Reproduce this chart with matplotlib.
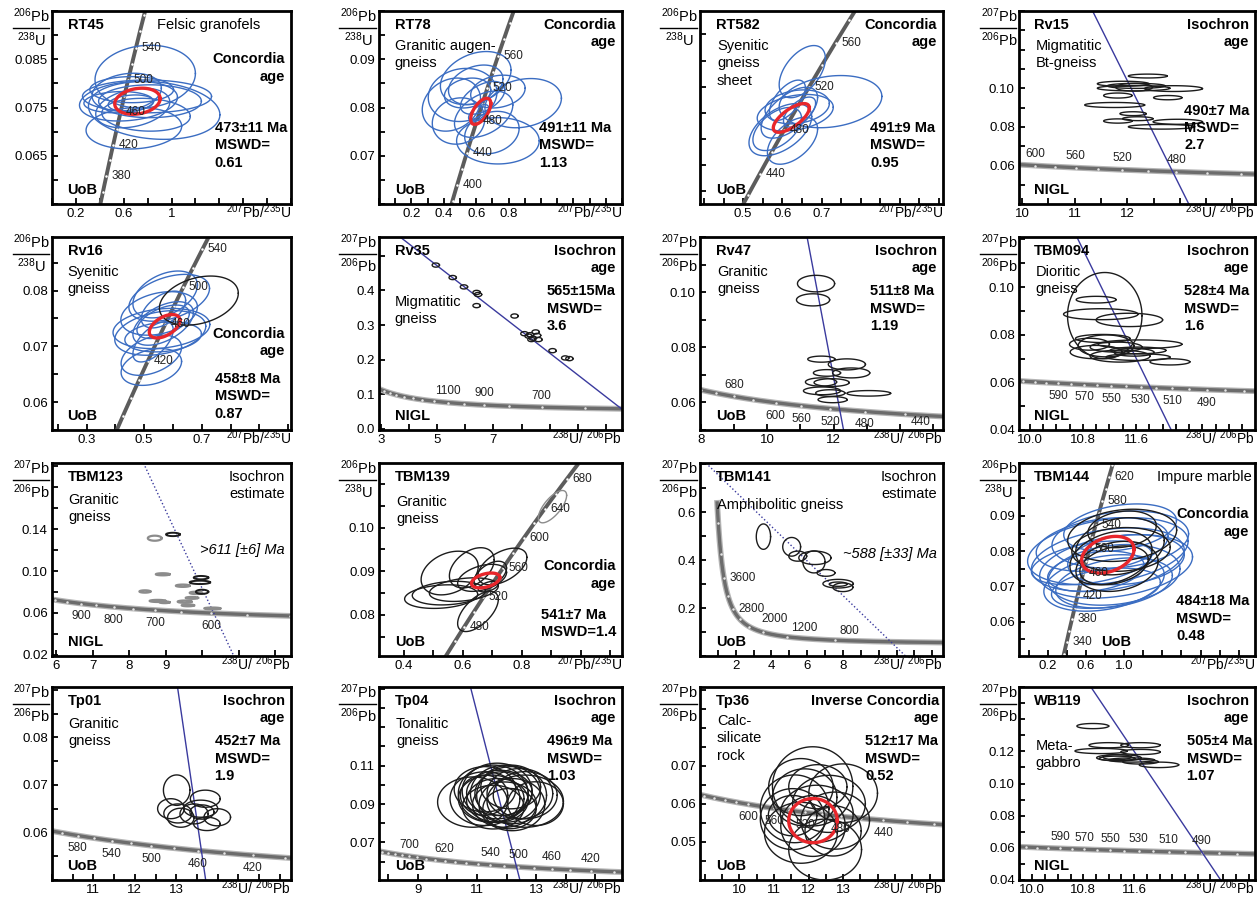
import numpy as np
import matplotlib
matplotlib.use('Agg')
import matplotlib.pyplot as plt

plt.rcParams['font.family'] = ['Liberation Sans', 'DejaVu Sans']
plt.rcParams['mathtext.default'] = 'regular'

# decay constants (1/yr) and present-day 238U/235U
L238 = 1.55125e-10
L235 = 9.8485e-10
U85 = 137.88

# ---- data ----
# ellipses are (x, sx, y, sy, rho)

rt45_xticks = ['0.2', '0.6', '1']
rt45_yticks = ['0.065', '0.075', '0.085']
rt45_ages = [380, 420, 460, 500, 540]
rt45_blue = [
    (0.78, 0.42, 0.0814, 0.0065, 0.1), (0.855, 0.55, 0.0744, 0.0060, -0.15),
    (0.685, 0.40, 0.0707, 0.0043, 0.1), (0.64, 0.41, 0.0763, 0.0041, 0.2),
    (0.795, 0.54, 0.0773, 0.0034, 0.0), (0.625, 0.29, 0.0782, 0.0039, 0.2),
    (0.676, 0.31, 0.0749, 0.0041, 0.3), (0.557, 0.29, 0.0761, 0.0022, 0.1),
    (0.787, 0.37, 0.0735, 0.0034, -0.1), (0.667, 0.35, 0.0787, 0.0027, 0.0),
    (0.82, 0.43, 0.0763, 0.0034, 0.0), (0.66, 0.19, 0.0759, 0.0017, 0.2),
]
rt45_mean = (0.715, 0.19, 0.0763, 0.0027, 0.2)

rt78_xticks = ['0.2', '0.4', '0.6', '0.8']
rt78_yticks = ['0.07', '0.08', '0.09']
rt78_ages = [400, 440, 480, 520, 560]
rt78_blue = [
    (0.89, 0.236, 0.0809, 0.0051, 0.2), (0.734, 0.255, 0.0731, 0.0048, 0.0),
    (0.597, 0.218, 0.0861, 0.0055, 0.3), (0.447, 0.18, 0.0806, 0.0055, 0.2),
    (0.516, 0.212, 0.0826, 0.0055, 0.1), (0.597, 0.168, 0.0847, 0.0041, 0.3),
    (0.646, 0.18, 0.0786, 0.0048, 0.4), (0.491, 0.162, 0.0772, 0.0048, 0.1),
    (0.697, 0.168, 0.0748, 0.0044, 0.2), (0.64, 0.137, 0.082, 0.0034, 0.5),
    (0.615, 0.062, 0.0789, 0.0017, 0.6), (0.547, 0.143, 0.083, 0.0031, 0.2),
    (0.734, 0.168, 0.0833, 0.0034, 0.2),
]
rt78_mean = (0.628, 0.062, 0.0792, 0.0027, 0.6)

rt582_xticks = ['0.5', '0.6', '0.7']
rt582_yticks = ['0.070', '0.078', '0.086']
rt582_ages = [440, 480, 520, 560]
rt582_blue = [
    (0.651, 0.059, 0.0863, 0.0040, 0.5), (0.723, 0.131, 0.0817, 0.0040, 0.2),
    (0.595, 0.080, 0.0774, 0.0040, 0.5), (0.633, 0.097, 0.0800, 0.0028, 0.3),
    (0.618, 0.072, 0.0800, 0.0039, 0.6), (0.626, 0.064, 0.0757, 0.0036, 0.5),
    (0.613, 0.046, 0.0819, 0.0031, 0.6), (0.587, 0.062, 0.0775, 0.0033, 0.5),
    (0.644, 0.041, 0.0801, 0.0023, 0.6), (0.638, 0.082, 0.0809, 0.0026, 0.2),
]
rt582_mean = (0.623, 0.046, 0.0792, 0.0022, 0.7)

rv15_xticks = ['10', '11', '12']
rv15_yticks = ['0.06', '0.08', '0.10']
rv15_ages = [600, 560, 520, 480]
rv15_isochron = [(11.34, 0.14), (13.17, 0.04)]
rv15_ell = [
    (12.39, 0.37, 0.1063, 0.0010, 0), (11.92, 0.49, 0.1023, 0.0013, 0),
    (12.17, 0.55, 0.1012, 0.0013, 0), (12.12, 0.69, 0.1000, 0.0014, 0),
    (12.88, 0.55, 0.0998, 0.0015, 0), (12.13, 0.35, 0.1005, 0.0020, 0),
    (11.82, 0.27, 0.0962, 0.0013, 0), (12.77, 0.27, 0.0951, 0.0011, 0),
    (11.76, 0.57, 0.0913, 0.0013, 0), (12.11, 0.25, 0.0868, 0.0010, 0),
    (12.20, 0.29, 0.0842, 0.0010, 0), (11.82, 0.27, 0.0830, 0.0011, 0),
    (12.96, 0.47, 0.0826, 0.0013, 0), (12.65, 0.63, 0.0800, 0.0012, 0),
]

rv16_xticks = ['0.3', '0.5', '0.7']
rv16_yticks = ['0.06', '0.07', '0.08']
rv16_ages = [420, 460, 500, 540]
rv16_blue = [
    (0.587, 0.14, 0.0787, 0.0042, 0.4), (0.573, 0.112, 0.0793, 0.0042, 0.4),
    (0.552, 0.133, 0.0759, 0.0039, 0.3), (0.56, 0.168, 0.0732, 0.0036, 0.2),
    (0.556, 0.158, 0.0724, 0.0040, 0.3), (0.525, 0.105, 0.0684, 0.0036, 0.4),
    (0.525, 0.105, 0.0663, 0.0033, 0.3), (0.566, 0.105, 0.0741, 0.0039, 0.5),
    (0.566, 0.091, 0.0744, 0.0030, 0.5), (0.566, 0.133, 0.0717, 0.0027, 0.2),
    (0.567, 0.077, 0.0766, 0.0033, 0.5), (0.531, 0.07, 0.0708, 0.0036, 0.6),
]
rv16_black = [(0.69, 0.137, 0.0782, 0.0044, 0.3)]
rv16_mean = (0.571, 0.053, 0.0736, 0.0021, 0.5)

rv35_xticks = ['3', '5', '7']
rv35_yticks = ['0.0', '0.1', '0.2', '0.3', '0.4']
rv35_ages = [1100, 900, 700]
rv35_isochron = [(3.68, 0.554), (11.57, 0.057)]
rv35_x = [4.95, 5.55, 5.95, 6.4, 6.45, 6.4, 7.75, 8.1, 8.25, 8.4, 8.55, 8.35,
          8.6, 8.5, 8.3, 9.1, 9.55, 9.7]
rv35_y = [0.473, 0.437, 0.41, 0.394, 0.388, 0.356, 0.326, 0.275, 0.268, 0.262,
          0.27, 0.258, 0.258, 0.28, 0.272, 0.226, 0.205, 0.203]

rv47_xticks = ['8', '10', '12']
rv47_yticks = ['0.06', '0.08', '0.10']
rv47_ages = [680, 600, 560, 520, 480, 440]
rv47_isochron = [(11.2, 0.12), (12.3, 0.05)]
rv47_ell = [
    (11.47, 0.56, 0.1031, 0.0030, 0), (11.38, 0.50, 0.0972, 0.0022, 0),
    (11.63, 0.41, 0.0757, 0.0011, 0), (12.40, 0.56, 0.0738, 0.0020, 0),
    (11.80, 0.41, 0.0707, 0.0012, 0), (12.53, 0.56, 0.0707, 0.0018, 0),
    (11.62, 0.47, 0.0674, 0.0015, 0), (11.94, 0.53, 0.0672, 0.0014, 0),
    (11.65, 0.56, 0.0642, 0.0014, 0), (11.90, 0.44, 0.0634, 0.0012, 0),
    (13.06, 0.66, 0.0633, 0.0010, 0), (11.97, 0.44, 0.0610, 0.0011, 0),
]

tbm094_xticks = ['10.0', '10.8', '11.6']
tbm094_yticks = ['0.04', '0.06', '0.08', '0.10']
tbm094_ages = [590, 570, 550, 530, 510, 490]
tbm094_isochron = [(10.71, 0.121), (12.13, 0.04)]
tbm094_ell = [
    (11.13, 0.56, 0.0880, 0.0181, 0), (11.00, 0.30, 0.0947, 0.0014, 0),
    (11.07, 0.56, 0.0886, 0.0023, 0), (11.50, 0.50, 0.0862, 0.0028, 0),
    (11.10, 0.41, 0.0784, 0.0017, 0), (10.90, 0.30, 0.0760, 0.0025, 0),
    (11.66, 0.63, 0.0760, 0.0018, 0), (11.30, 0.39, 0.0748, 0.0021, 0),
    (11.00, 0.39, 0.0727, 0.0028, 0), (11.63, 0.42, 0.0734, 0.0014, 0),
    (11.36, 0.45, 0.0710, 0.0025, 0), (11.63, 0.48, 0.0706, 0.0014, 0),
    (12.11, 0.30, 0.0686, 0.0013, 0), (11.15, 0.42, 0.0753, 0.0046, 0),
    (11.57, 0.30, 0.0726, 0.0016, 0),
]

tbm123_xticks = ['6', '7', '8', '9']
tbm123_yticks = ['0.02', '0.06', '0.10', '0.14']
tbm123_ages = [900, 800, 700, 600]
tbm123_isochron = [(8.39, 0.203), (10.87, 0.019)]
tbm123_grey = [
    (8.70, 0.19, 0.1313, 0.0024, 0), (8.92, 0.19, 0.0969, 0.0010, 0),
    (8.43, 0.15, 0.0805, 0.0011, 0), (9.47, 0.19, 0.0860, 0.0011, 0),
    (8.78, 0.22, 0.0715, 0.0010, 0), (8.97, 0.14, 0.0702, 0.0008, 0),
    (9.52, 0.19, 0.0708, 0.0011, 0), (9.61, 0.17, 0.0673, 0.0009, 0),
    (9.72, 0.17, 0.0744, 0.0009, 0), (10.28, 0.22, 0.0644, 0.0008, 0),
    (9.83, 0.17, 0.0792, 0.0011, 0),
]
tbm123_black = [
    (9.20, 0.19, 0.1349, 0.0016, 0), (9.97, 0.20, 0.0937, 0.0016, 0),
    (9.94, 0.28, 0.0892, 0.0016, 0), (10.00, 0.17, 0.0802, 0.0020, 0),
]

tbm139_xticks = ['0.4', '0.6', '0.8']
tbm139_yticks = ['0.08', '0.09', '0.10']
tbm139_ages = [480, 520, 560, 600, 640, 680]
tbm139_black = [
    (0.555, 0.097, 0.0896, 0.0050, 0.3), (0.630, 0.076, 0.0908, 0.0046, 0.4),
    (0.734, 0.083, 0.0911, 0.0042, 0.5), (0.603, 0.117, 0.0858, 0.0027, 0.3),
    (0.552, 0.124, 0.0850, 0.0027, 0.2), (0.526, 0.124, 0.0842, 0.0027, 0.2),
    (0.651, 0.069, 0.0808, 0.0046, 0.6), (0.665, 0.083, 0.0885, 0.0031, 0.4),
    (0.693, 0.055, 0.0892, 0.0031, 0.5), (0.686, 0.034, 0.0865, 0.0012, 0.5),
]
tbm139_grey = [(0.904, 0.048, 0.1048, 0.0037, 0.7)]
tbm139_mean = (0.677, 0.048, 0.0879, 0.0017, 0.4)

tbm141_xticks = ['2', '4', '6', '8']
tbm141_yticks = ['0.2', '0.4', '0.6']
tbm141_ages = [3600, 2800, 2000, 1200, 800]
tbm141_isochron = [(0.33, 0.806), (11.5, 0.0)]
tbm141_ell = [
    (3.55, 0.40, 0.4985, 0.053, 0), (5.13, 0.50, 0.456, 0.039, 0),
    (5.47, 0.50, 0.417, 0.021, 0), (6.43, 0.90, 0.410, 0.028, 0),
    (6.38, 0.62, 0.393, 0.046, 0), (7.05, 0.50, 0.347, 0.014, 0),
    (7.73, 0.85, 0.302, 0.018, 0), (8.00, 0.56, 0.287, 0.018, 0),
    (7.73, 0.50, 0.300, 0.009, 0),
]

tbm144_xticks = ['0.2', '0.6', '1.0']
tbm144_yticks = ['0.06', '0.07', '0.08', '0.09']
tbm144_ages = [340, 380, 420, 460, 500, 540, 580, 620]
tbm144_blue = [
    (0.83, 0.84, 0.0800, 0.0095, 0.3), (0.83, 0.80, 0.0776, 0.0090, 0.3),
    (0.916, 0.80, 0.0757, 0.0090, 0.3), (0.895, 0.69, 0.0733, 0.0086, 0.2),
    (0.79, 0.63, 0.0710, 0.0080, 0.3), (0.895, 0.61, 0.0710, 0.0071, 0.3),
    (0.77, 0.69, 0.0819, 0.0076, 0.3), (0.96, 0.715, 0.0833, 0.0081, 0.2),
    (0.958, 0.59, 0.0867, 0.0067, 0.3), (0.66, 0.63, 0.0767, 0.0062, 0.4),
    (0.81, 0.57, 0.0695, 0.0057, 0.3), (1.02, 0.61, 0.0776, 0.0071, 0.2),
    (0.705, 0.505, 0.0743, 0.0057, 0.3),
]
tbm144_black = [
    (0.98, 0.57, 0.0845, 0.0074, 0.2), (0.957, 0.463, 0.0814, 0.0081, 0.2),
    (0.863, 0.43, 0.0781, 0.0076, 0.3), (0.926, 0.43, 0.0757, 0.0071, 0.2),
    (0.895, 0.358, 0.0760, 0.0055, 0.3), (0.968, 0.515, 0.0805, 0.0062, 0.1),
    (0.979, 0.358, 0.0862, 0.0052, 0.2),
]
tbm144_mean = (0.83, 0.274, 0.0790, 0.0052, 0.3)

tp01_xticks = ['11', '12', '13']
tp01_yticks = ['0.06', '0.07', '0.08']
tp01_ages = [580, 540, 500, 460, 420]
tp01_isochron = [(13.03, 0.0906), (13.71, 0.05)]
tp01_ell = [
    (13.01, 0.32, 0.0689, 0.0032, 0), (13.70, 0.36, 0.0671, 0.0018, 0),
    (12.87, 0.32, 0.0650, 0.0021, 0), (13.04, 0.34, 0.0640, 0.0020, 0),
    (13.59, 0.41, 0.0650, 0.0018, 0), (13.43, 0.34, 0.0639, 0.0021, 0),
    (13.62, 0.29, 0.0643, 0.0015, 0), (13.11, 0.32, 0.0631, 0.0020, 0),
    (13.99, 0.32, 0.0632, 0.0018, 0), (13.74, 0.32, 0.0618, 0.0014, 0),
]

tp04_xticks = ['9', '11', '13']
tp04_yticks = ['0.07', '0.09', '0.11']
tp04_ages = [700, 620, 540, 500, 460, 420]
tp04_isochron = [(10.78, 0.151), (12.45, 0.0504)]
tp04_ell = [
    (10.85, 1.18, 0.0910, 0.0131, 0), (11.55, 1.18, 0.0954, 0.0149, 0),
    (11.68, 1.18, 0.0968, 0.0145, 0), (11.96, 1.18, 0.0954, 0.0149, 0),
    (12.17, 1.18, 0.0946, 0.0149, 0), (11.76, 1.11, 0.0958, 0.0118, 0),
    (11.48, 1.11, 0.0928, 0.0123, 0), (12.63, 1.29, 0.0915, 0.0136, 0),
    (12.18, 1.11, 0.0897, 0.0136, 0), (11.27, 1.18, 0.0928, 0.0140, 0),
    (12.45, 1.11, 0.0954, 0.0131, 0), (11.55, 1.04, 0.0884, 0.0114, 0),
    (11.93, 1.08, 0.0897, 0.0118, 0), (11.27, 1.04, 0.0977, 0.0118, 0),
    (12.63, 1.08, 0.0946, 0.0123, 0), (12.14, 1.01, 0.0989, 0.0114, 0),
    (11.69, 1.04, 0.0919, 0.0114, 0), (11.83, 0.90, 0.0954, 0.0114, 0),
    (12.98, 0.94, 0.0902, 0.0114, 0), (12.10, 0.90, 0.0876, 0.0105, 0),
    (11.24, 0.80, 0.0946, 0.0105, 0),
]

tp36_xticks = ['10', '11', '12', '13']
tp36_yticks = ['0.05', '0.06', '0.07']
tp36_ages = [600, 560, 520, 480, 440]
tp36_ell = [
    (11.60, 0.99, 0.0587, 0.0089, 0), (12.12, 1.16, 0.0646, 0.0104, 0),
    (13.00, 0.99, 0.0628, 0.0077, 0), (12.48, 1.05, 0.0480, 0.0080, 0),
    (11.78, 1.05, 0.0524, 0.0080, 0), (11.89, 0.93, 0.0617, 0.0075, 0),
    (12.24, 1.05, 0.0574, 0.0075, 0), (12.59, 1.05, 0.0600, 0.0075, 0),
    (11.54, 0.93, 0.0560, 0.0080, 0), (12.77, 0.99, 0.0556, 0.0075, 0),
    (11.78, 0.93, 0.0644, 0.0075, 0), (12.13, 0.93, 0.0542, 0.0080, 0),
    (12.71, 0.81, 0.0529, 0.0066, 0), (12.27, 0.84, 0.0645, 0.0058, 0),
    (11.54, 0.70, 0.0569, 0.0053, 0),
]
tp36_mean = (12.13, 0.70, 0.0556, 0.0058, 0)

wb119_xticks = ['10.0', '10.8', '11.6']
wb119_yticks = ['0.04', '0.06', '0.08', '0.10', '0.12']
wb119_ages = [590, 570, 550, 530, 510, 490]
wb119_isochron = [(10.92, 0.16), (12.96, 0.04)]
wb119_ell = [
    (10.95, 0.25, 0.1357, 0.0016, 0), (11.20, 0.31, 0.1238, 0.0016, 0),
    (11.70, 0.31, 0.1238, 0.0016, 0), (11.08, 0.41, 0.1202, 0.0016, 0),
    (11.70, 0.31, 0.1196, 0.0016, 0), (11.36, 0.35, 0.1160, 0.0019, 0),
    (11.33, 0.28, 0.1156, 0.0014, 0), (11.56, 0.36, 0.1146, 0.0013, 0),
    (11.70, 0.28, 0.1135, 0.0014, 0), (11.99, 0.31, 0.1116, 0.0017, 0),
    (11.33, 0.22, 0.1164, 0.0016, 0),
]

BLUE = '#3b6dc2'
BLACK = '#1c1c1c'
RED = '#e8262b'
GREY = '#8c8c8c'

# panel boxes in pixels of the 1257 x 899 figure
COL_X = [52, 379, 700, 1019]
COL_W = [239, 243, 243, 236]
ROW_Y = [11, 237, 463, 687]
ROW_H = 193

SIDES = {'e': ((4, 0), 'left', 'center'),
         'n': ((0, 4), 'center', 'bottom'),
         's': ((0, -5), 'center', 'top'),
         'q': ((4, -1), 'left', 'top'),
         'r': ((3, 2), 'left', 'bottom'),
         'R': ((9, 1), 'left', 'bottom')}

fig = plt.figure(figsize=(12.57, 8.99), dpi=100)


def wetherill(t):
    t = np.asarray(t, float) * 1e6
    return np.expm1(L235 * t), np.expm1(L238 * t)


def tera(t):
    t = np.asarray(t, float) * 1e6
    r206 = np.expm1(L238 * t)
    return 1.0 / r206, np.expm1(L235 * t) / r206 / U85


def set_ticks(axis, lim, step, labels):
    lo, hi = lim
    marks = np.arange(np.ceil(lo / step - 1e-6) * step, hi + 1e-9, step)
    vals = [float(s) for s in labels]
    text = []
    for m in marks:
        hit = [s for v, s in zip(vals, labels) if abs(v - m) < step * 1e-3]
        text.append(hit[0] if hit else '')
    axis.set_ticks(marks)
    axis.set_ticklabels(text)


def frame(r, c, kind, xlim, ylim, xstep, xticks, ystep, yticks):
    W, H = 1257.0, 899.0
    ax = fig.add_axes([COL_X[c] / W, 1 - (ROW_Y[r] + ROW_H) / H,
                       COL_W[c] / W, ROW_H / H])
    ax.set_xlim(xlim)
    ax.set_ylim(ylim)
    ax.autoscale(False)
    set_ticks(ax.xaxis, xlim, xstep, xticks)
    set_ticks(ax.yaxis, ylim, ystep, yticks)
    ax.tick_params(direction='in', length=4, width=1.3, labelsize=9.5, pad=3,
                   top=False, right=False)
    for s in ax.spines.values():
        s.set_linewidth(2.0)
    tr = ax.transAxes
    if kind == 'W':
        num, den, xl = r'$^{206}$Pb', r'$^{238}$U', r'$^{207}$Pb/$^{235}$U'
    else:
        num, den, xl = r'$^{207}$Pb', r'$^{206}$Pb', r'$^{238}$U/ $^{206}$Pb'
    ax.text(-0.085, 0.925, num, transform=tr, ha='center', va='bottom', fontsize=10.5)
    ax.text(-0.085, 0.902, den, transform=tr, ha='center', va='top', fontsize=10.5)
    ax.plot([-0.165, -0.012], [0.914, 0.914], transform=tr, color='k', lw=1.0,
            clip_on=False)
    ax.text(1.0, -0.074, xl, transform=tr, ha='right', va='baseline', fontsize=10)
    return ax


def concordia(ax, kind, ages, sides, step):
    f = wetherill if kind == 'W' else tera
    x, y = f(np.linspace(20, 4600, 4000))
    if kind == 'W':
        ax.plot(x, y, color='#5c5c5c', lw=2.8, zorder=2, solid_capstyle='butt')
        dot = 'white'
    else:
        ax.plot(x, y, color='#b4b4b4', lw=4.2, zorder=2)
        ax.plot(x, y, color='#6c6c6c', lw=2.4, zorder=2)
        dot = '#e6e6e6'
    xd, yd = f(np.arange(step, 4600, step))
    ax.plot(xd, yd, 'o', ms=1.8, color=dot, mec='none', zorder=2.2)
    xa, ya = f(ages)
    for a, xi, yi, sd in zip(ages, xa, ya, sides):
        off, ha, va = SIDES[sd]
        ax.annotate(str(a), (xi, yi), xytext=off, textcoords='offset points',
                    ha=ha, va=va, fontsize=8.5, color='#222222', zorder=5)


def ellipses(ax, rows, color, lw=1.0, z=3):
    th = np.linspace(0, 2 * np.pi, 120)
    for x, sx, y, sy, rho in rows:
        ex = x + sx * np.cos(th)
        ey = y + sy * (rho * np.cos(th) + np.sqrt(1 - rho ** 2) * np.sin(th))
        ax.plot(ex, ey, color=color, lw=lw, zorder=z)


def isochron(ax, pts, dotted=False):
    xs, ys = zip(*pts)
    ax.plot(xs, ys, color='#3a3a9e', lw=1.0, ls=':' if dotted else '-', zorder=2.5)


def note(ax, x, y, s, ha='left', weight='bold', style='normal', va='top'):
    ax.text(x, y, s, transform=ax.transAxes, ha=ha, va=va, fontsize=10.5,
            fontweight=weight, fontstyle=style, linespacing=1.3, zorder=6)


def names(ax, name, lab, lab_x=0.065):
    note(ax, 0.065, 0.965, name)
    note(ax, lab_x, 0.035, lab, va='bottom')


# RT45
ax = frame(0, 0, 'W', (0, 2.0), (0.055, 0.095), 0.2, rt45_xticks, 0.005, rt45_yticks)
concordia(ax, 'W', rt45_ages, 'eeeee', 20)
ellipses(ax, rt45_blue, BLUE)
ellipses(ax, [rt45_mean], RED, lw=2.4, z=4)
names(ax, 'RT45', 'UoB')
note(ax, 0.44, 0.965, 'Felsic granofels', weight='normal')
note(ax, 0.975, 0.785, 'Concordia\nage', ha='right')
note(ax, 0.68, 0.43, '473±11 Ma\nMSWD=\n0.61')

# RT78
ax = frame(0, 1, 'W', (0, 1.5), (0.06, 0.10), 0.1, rt78_xticks, 0.005, rt78_yticks)
concordia(ax, 'W', rt78_ages, 'eeeee', 20)
ellipses(ax, rt78_blue, BLUE)
ellipses(ax, [rt78_mean], RED, lw=2.4, z=4)
names(ax, 'RT78', 'UoB')
note(ax, 0.065, 0.855, 'Granitic augen-\ngneiss', weight='normal')
note(ax, 0.975, 0.965, 'Concordia\nage', ha='right')
note(ax, 0.66, 0.43, '491±11 Ma\nMSWD=\n1.13')

# RT582
ax = frame(0, 2, 'W', (0.39, 1.01), (0.066, 0.0956), 0.05, rt582_xticks, 0.004, rt582_yticks)
concordia(ax, 'W', rt582_ages, 'eeee', 20)
ellipses(ax, rt582_blue, BLUE)
ellipses(ax, [rt582_mean], RED, lw=2.4, z=4)
names(ax, 'RT582', 'UoB')
note(ax, 0.07, 0.855, 'Syenitic\ngneiss\nsheet', weight='normal')
note(ax, 0.975, 0.965, 'Concordia\nage', ha='right')
note(ax, 0.70, 0.43, '491±9 Ma\nMSWD=\n0.95')

# Rv15
ax = frame(0, 3, 'TW', (9.94, 14.43), (0.04, 0.14), 0.5, rv15_xticks, 0.01, rv15_yticks)
concordia(ax, 'TW', rv15_ages, 'nnnn', 20)
isochron(ax, rv15_isochron)
ellipses(ax, rv15_ell, BLACK)
names(ax, 'Rv15', 'NIGL')
note(ax, 0.07, 0.855, 'Migmatitic\nBt-gneiss', weight='normal')
note(ax, 0.975, 0.965, 'Isochron\nage', ha='right')
note(ax, 0.70, 0.52, '490±7 Ma\nMSWD=\n2.7')

# Rv16
ax = frame(1, 0, 'W', (0.18, 1.01), (0.055, 0.0896), 0.1, rv16_xticks, 0.005, rv16_yticks)
concordia(ax, 'W', rv16_ages, 'eeee', 20)
ellipses(ax, rv16_blue, BLUE)
ellipses(ax, rv16_black, BLACK)
ellipses(ax, [rv16_mean], RED, lw=2.4, z=4)
names(ax, 'Rv16', 'UoB')
note(ax, 0.065, 0.855, 'Syenitic\ngneiss', weight='normal')
note(ax, 0.975, 0.535, 'Concordia\nage', ha='right')
note(ax, 0.68, 0.30, '458±8 Ma\nMSWD=\n0.87')

# Rv35
ax = frame(1, 1, 'TW', (2.93, 11.57), (-0.003, 0.554), 1, rv35_xticks, 0.1, rv35_yticks)
concordia(ax, 'TW', rv35_ages, 'nnn', 100)
isochron(ax, rv35_isochron)
ellipses(ax, [(x, 0.13, y, 0.006, 0) for x, y in zip(rv35_x, rv35_y)], BLACK)
names(ax, 'Rv35', 'NIGL')
note(ax, 0.065, 0.70, 'Migmatitic\ngneiss', weight='normal')
note(ax, 0.975, 0.965, 'Isochron\nage', ha='right')
note(ax, 0.69, 0.755, '565±15Ma\nMSWD=\n3.6')

# Rv47
ax = frame(1, 2, 'TW', (7.97, 15.3), (0.05, 0.12), 1, rv47_xticks, 0.01, rv47_yticks)
concordia(ax, 'TW', rv47_ages, 'nssssq', 40)
isochron(ax, rv47_isochron)
ellipses(ax, rv47_ell, BLACK)
names(ax, 'Rv47', 'UoB')
note(ax, 0.07, 0.855, 'Granitic\ngneiss', weight='normal')
note(ax, 0.975, 0.965, 'Isochron\nage', ha='right')
note(ax, 0.70, 0.755, '511±8 Ma\nMSWD=\n1.19')

# TBM094
ax = frame(1, 3, 'TW', (9.84, 13.39), (0.04, 0.121), 0.2, tbm094_xticks, 0.01, tbm094_yticks)
concordia(ax, 'TW', tbm094_ages, 'ssssss', 10)
isochron(ax, tbm094_isochron)
ellipses(ax, tbm094_ell, BLACK)
names(ax, 'TBM094', 'NIGL')
note(ax, 0.07, 0.855, 'Dioritic\ngneiss', weight='normal')
note(ax, 0.975, 0.965, 'Isochron\nage', ha='right')
note(ax, 0.70, 0.755, '528±4 Ma\nMSWD=\n1.6')

# TBM123
ax = frame(2, 0, 'TW', (5.88, 12.44), (0.019, 0.203), 1, tbm123_xticks, 0.02, tbm123_yticks)
concordia(ax, 'TW', tbm123_ages, 'ssss', 50)
isochron(ax, tbm123_isochron, dotted=True)
ellipses(ax, tbm123_grey, GREY, lw=1.6)
ellipses(ax, tbm123_black, BLACK, lw=1.4)
names(ax, 'TBM123', 'NIGL')
note(ax, 0.07, 0.845, 'Granitic\ngneiss', weight='normal')
note(ax, 0.975, 0.965, 'Isochron\nestimate', ha='right', weight='normal')
note(ax, 0.975, 0.55, '>611 [±6] Ma', ha='right', weight='normal', style='italic', va='center')

# TBM139
ax = frame(2, 1, 'W', (0.315, 1.14), (0.0706, 0.1148), 0.1, tbm139_xticks, 0.005, tbm139_yticks)
concordia(ax, 'W', tbm139_ages, 'eeeeee', 20)
ellipses(ax, tbm139_black, BLACK)
ellipses(ax, tbm139_grey, GREY)
ellipses(ax, [tbm139_mean], RED, lw=2.4, z=4)
names(ax, 'TBM139', 'UoB')
note(ax, 0.07, 0.835, 'Granitic\ngneiss', weight='normal')
note(ax, 0.975, 0.50, 'Concordia\nage', ha='right')
note(ax, 0.665, 0.25, '541±7 Ma\nMSWD=1.4')

# TBM141
ax = frame(2, 2, 'TW', (0, 13.6), (0, 0.806), 1, tbm141_xticks, 0.1, tbm141_yticks)
concordia(ax, 'TW', tbm141_ages, 'eeRrr', 400)
isochron(ax, tbm141_isochron, dotted=True)
ellipses(ax, tbm141_ell, BLACK)
names(ax, 'TBM141', 'UoB')
note(ax, 0.07, 0.82, 'Amphibolitic gneiss', weight='normal')
note(ax, 0.975, 0.965, 'Isochron\nestimate', ha='right', weight='normal')
note(ax, 0.975, 0.53, '~588 [±33] Ma', ha='right', weight='normal', style='italic', va='center')

# TBM144
ax = frame(2, 3, 'W', (-0.1, 2.37), (0.0503, 0.105), 0.2, tbm144_xticks, 0.005, tbm144_yticks)
concordia(ax, 'W', tbm144_ages, 'eeeeeeee', 20)
ellipses(ax, tbm144_blue, BLUE)
ellipses(ax, tbm144_black, BLACK)
ellipses(ax, [tbm144_mean], RED, lw=2.4, z=4)
names(ax, 'TBM144', 'UoB', lab_x=0.35)
note(ax, 0.985, 0.965, 'Impure marble', ha='right', weight='normal')
note(ax, 0.975, 0.77, 'Concordia\nage', ha='right')
note(ax, 0.665, 0.32, '484±18 Ma\nMSWD=\n0.48')

# Tp01
ax = frame(3, 0, 'TW', (10.0, 15.77), (0.05, 0.0906), 0.5, tp01_xticks, 0.005, tp01_yticks)
concordia(ax, 'TW', tp01_ages, 'sssss', 20)
isochron(ax, tp01_isochron)
ellipses(ax, tp01_ell, BLACK)
names(ax, 'Tp01', 'UoB')
note(ax, 0.07, 0.845, 'Granitic\ngneiss', weight='normal')
note(ax, 0.975, 0.965, 'Isochron\nage', ha='right')
note(ax, 0.68, 0.755, '452±7 Ma\nMSWD=\n1.9')

# Tp04
ax = frame(3, 1, 'TW', (7.69, 15.9), (0.0504, 0.151), 1, tp04_xticks, 0.01, tp04_yticks)
concordia(ax, 'TW', tp04_ages, 'nnnnnn', 20)
isochron(ax, tp04_isochron)
ellipses(ax, tp04_ell, BLACK)
names(ax, 'Tp04', 'UoB')
note(ax, 0.07, 0.845, 'Tonalitic\ngneiss', weight='normal')
note(ax, 0.975, 0.965, 'Isochron\nage', ha='right')
note(ax, 0.69, 0.755, '496±9 Ma\nMSWD=\n1.03')

# Tp36
ax = frame(3, 2, 'TW', (8.87, 15.88), (0.04, 0.0907), 0.5, tp36_xticks, 0.005, tp36_yticks)
concordia(ax, 'TW', tp36_ages, 'sssss', 20)
ellipses(ax, tp36_ell, BLACK)
ellipses(ax, [tp36_mean], RED, lw=2.4, z=4)
names(ax, 'Tp36', 'UoB')
note(ax, 0.07, 0.86, 'Calc-\nsilicate\nrock', weight='normal')
note(ax, 0.985, 0.965, 'Inverse Concordia\nage', ha='right')
note(ax, 0.68, 0.755, '512±17 Ma\nMSWD=\n0.52')

# WB119
ax = frame(3, 3, 'TW', (9.79, 13.5), (0.04, 0.16), 0.2, wb119_xticks, 0.01, wb119_yticks)
concordia(ax, 'TW', wb119_ages, 'nnnnnn', 10)
isochron(ax, wb119_isochron)
ellipses(ax, wb119_ell, BLACK)
names(ax, 'WB119', 'NIGL')
note(ax, 0.07, 0.73, 'Meta-\ngabbro', weight='normal')
note(ax, 0.975, 0.965, 'Isochron\nage', ha='right')
note(ax, 0.71, 0.755, '505±4 Ma\nMSWD=\n1.07')

fig.savefig('out.png', dpi=100)
